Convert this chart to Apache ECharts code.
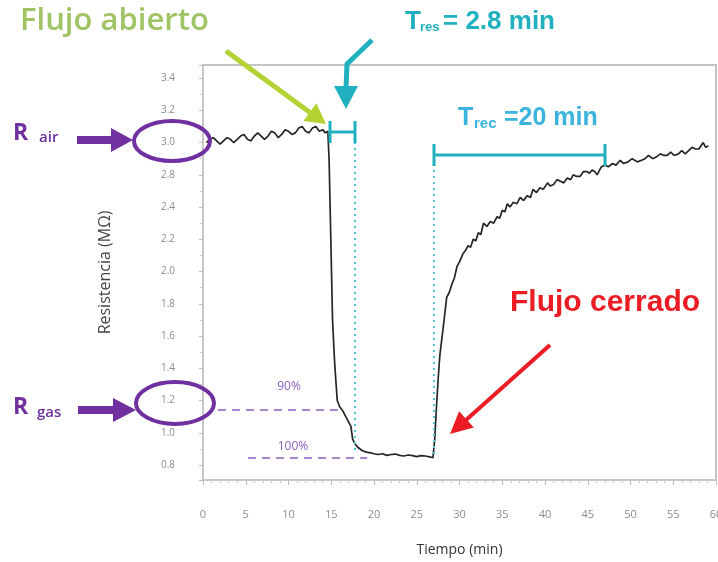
<!DOCTYPE html>
<html>
<head>
<meta charset="utf-8">
<script src="https://cdn.jsdelivr.net/npm/echarts@6/dist/echarts.min.js"></script>
<style>html,body{margin:0;padding:0;background:#fff}#c{width:718px;height:562px}</style>
</head>
<body>
<div id="c"></div>
<script>
// time (min)
const timeMin = [0.4,0.8,1.2,1.6,2.0,2.4,2.8,3.2,3.6,4.0,4.4,4.8,5.2,5.6,6.0,6.4,6.8,7.2,7.6,8.0,8.4,8.8,9.2,9.6,10.0,10.4,10.8,11.2,11.6,12.0,12.4,12.8,13.2,13.6,14.0,14.3,14.6,
14.75,14.85,14.95,15.05,15.15,15.4,15.7,16.0,16.3,16.9,17.3,17.5,17.8,18.1,18.6,19.1,19.6,20.0,20.5,21.0,21.5,22.0,22.5,23.0,23.5,24.0,24.5,25.0,25.5,26.0,26.5,26.9,
27.1,27.35,27.5,27.7,27.95,28.2,28.5,28.8,29.1,29.4,29.7,30.0,30.4,30.7,31.0,31.3,31.6,31.9,32.2,32.5,32.8,33.2,33.6,34.0,34.4,34.7,35.0,35.3,35.6,35.9,36.3,36.7,37.1,37.5,37.9,38.3,38.6,39.0,39.4,39.8,40.3,40.6,41.0,41.4,41.8,42.2,42.6,43.0,43.3,43.7,44.1,44.5,44.9,45.2,45.5,45.8,46.1,46.4,46.6,47.0,47.4,47.9,48.3,48.8,49.2,49.7,50.2,50.8,51.3,51.7,52.1,52.6,53.0,53.5,53.9,54.3,54.7,55.1,55.6,56.0,56.4,56.8,57.2,57.6,58.0,58.5,58.8,59.1];
// resistance, in the plotted axis units
const resistance = [2.80,2.82,2.83,2.81,2.79,2.81,2.83,2.82,2.80,2.82,2.84,2.85,2.82,2.81,2.84,2.86,2.84,2.82,2.84,2.87,2.86,2.83,2.85,2.88,2.87,2.85,2.86,2.89,2.90,2.87,2.86,2.89,2.90,2.87,2.88,2.86,2.87,
2.69,2.44,2.20,1.95,1.70,1.43,1.20,1.16,1.14,1.08,1.04,0.96,0.93,0.91,0.89,0.88,0.875,0.87,0.865,0.87,0.86,0.865,0.868,0.86,0.856,0.862,0.858,0.852,0.858,0.856,0.850,0.845,
0.96,1.20,1.33,1.48,1.59,1.70,1.84,1.87,1.92,1.96,2.03,2.06,2.11,2.13,2.16,2.15,2.20,2.19,2.24,2.23,2.30,2.28,2.31,2.30,2.34,2.33,2.38,2.37,2.42,2.40,2.43,2.42,2.46,2.44,2.47,2.46,2.51,2.49,2.52,2.51,2.55,2.53,2.54,2.57,2.56,2.55,2.58,2.57,2.60,2.59,2.59,2.62,2.62,2.61,2.63,2.62,2.60,2.63,2.65,2.66,2.65,2.67,2.66,2.69,2.67,2.68,2.70,2.68,2.69,2.70,2.72,2.70,2.71,2.73,2.72,2.72,2.74,2.72,2.73,2.75,2.73,2.75,2.77,2.76,2.76,2.80,2.77,2.78];
// y tick positions and the labels printed at them in the reference
const yTickValues = [0.8,1.0,1.2,1.4,1.6,1.8,2.0,2.2,2.4,2.6,2.8,3.0,3.2];
const yTickLabels = ['0.8','1.0','1.2','1.4','1.6','1.8','2.0','2.2','2.4','2.8','3.0','3.2','3.4'];
const xTickLabels = [0,5,10,15,20,25,30,35,40,45,50,55,60];

const PURPLE = '#7030a0';
const TEAL = '#20b0bf';

function arrowHead(x1,y1,x2,y2,len,half,color){
  const dx=x2-x1, dy=y2-y1, L=Math.hypot(dx,dy), ux=dx/L, uy=dy/L;
  const bx=x2-ux*len, by=y2-uy*len, nx=-uy, ny=ux;
  return {type:'polygon', z:100, shape:{points:[[x2,y2],[bx+nx*half,by+ny*half],[bx-nx*half,by-ny*half]]}, style:{fill:color}};
}
function shaft(x1,y1,x2,y2,w,color){
  return {type:'line', z:100, shape:{x1,y1,x2,y2}, style:{stroke:color, lineWidth:w}};
}
function txt(x,y,text,font,fill,align){
  return {type:'text', z:100, style:{x,y,text,font,fill,textAlign:align||'left',textVerticalAlign:'middle'}};
}

const chart = echarts.init(document.getElementById('c'), null, {renderer:'canvas'});
const option = {
  animation:false,
  backgroundColor:'#fff',
  grid:{left:203,right:2,top:65,bottom:82,outerBoundsMode:'none',containLabel:false,show:true,borderColor:'#c4c4c4',borderWidth:2,backgroundColor:'transparent'},
  xAxis:{
    type:'value', min:0, max:60, interval:5,
    axisLine:{show:true,lineStyle:{color:'#c8c8c8',width:1.5}},
    axisTick:{show:true,length:5,lineStyle:{color:'#bdbdbd'}},
    minorTick:{show:true,splitNumber:5,length:3,lineStyle:{color:'#c8c8c8'}},
    splitLine:{show:false},
    axisLabel:{margin:29,color:'#8c8c8c',fontSize:11,fontFamily:'Open Sans',hideOverlap:false,
      formatter:v=>{const i=xTickLabels.indexOf(Math.round(v)); return i>=0?String(xTickLabels[i]):'';}},
    name:'Tiempo (min)', nameLocation:'middle', nameGap:63,
    nameTextStyle:{color:'#333',fontSize:14,fontFamily:'Open Sans'}
  },
  yAxis:{
    type:'value', min:0.707, max:3.281, splitNumber:13,
    axisLine:{show:true,lineStyle:{color:'#c8c8c8',width:1.5}},
    axisTick:{show:true,length:4,lineStyle:{color:'#bdbdbd'}},
    minorTick:{show:true,splitNumber:2,length:3,lineStyle:{color:'#cfcfcf'}},
    splitLine:{show:false},
    axisLabel:{margin:28,color:'#8c8c8c',fontSize:10,fontFamily:'Open Sans',
      formatter:v=>{for(let i=0;i<yTickValues.length;i++){if(Math.abs(v-yTickValues[i])<0.005)return yTickLabels[i];}return '';}},
    name:'Resistencia (MΩ)', nameLocation:'middle', nameGap:90, nameRotate:90,
    nameTextStyle:{color:'#444',fontSize:16,fontFamily:'Open Sans'}
  },
  series:[{
    type:'line', data: timeMin.map((t,i)=>[t,resistance[i]]),
    showSymbol:false, symbol:'none', smooth:false,
    lineStyle:{color:'#262626',width:1.7},
    markLine:{
      silent:true, symbol:'none', label:{show:false},
      data:[
        [{coord:[1.75,1.141],lineStyle:{color:'#8a5fc0',type:[8,6],width:1.6}},{coord:[15.8,1.141]}],
        [{coord:[5.26,0.843],lineStyle:{color:'#8a5fc0',type:[8,6],width:1.6}},{coord:[19.2,0.843]}],
        [{coord:[17.8,2.878],lineStyle:{color:'#55c6cf',type:[2,4],width:2}},{coord:[17.8,0.893]}],
        [{coord:[27.0,2.741],lineStyle:{color:'#55c6cf',type:[2,4],width:2}},{coord:[27.0,0.85]}]
      ]
    }
  }],
  graphic:[
    // Flujo abierto
    txt(20,21,'Flujo abierto','600 31px "Open Sans"','#a0c365'),
    shaft(226,51,312,114,5,'#b3d233'),
    arrowHead(226,51,326,124,20,11,'#b3d233'),
    // T_res
    txt(405,22,'T','bold 26px "Liberation Sans Narrow", "Liberation Sans"',TEAL),
    txt(420,27,'res','bold 13px "Liberation Sans Narrow", "Liberation Sans"',TEAL),
    txt(443,22,'= 2.8 min','bold 26px "Liberation Sans Narrow", "Liberation Sans"',TEAL),
    {type:'polyline', z:100, shape:{points:[[372,40],[347,64],[346,88]]}, style:{stroke:TEAL,lineWidth:5,fill:null}},
    {type:'polygon', z:100, shape:{points:[[334,86],[358,86],[346,109]]}, style:{fill:TEAL}},
    // response bracket
    shaft(330,132,355,132,3,TEAL), shaft(330,121,330,143,3,TEAL), shaft(355,121,355,143,3,TEAL),
    // T_rec
    txt(458,118,'T','bold 25px "Liberation Sans"','#3ab3dd'),
    txt(474,124,'rec','bold 15px "Liberation Sans"','#3ab3dd'),
    txt(504,118,'=20 min','bold 25px "Liberation Sans"','#3ab3dd'),
    shaft(434,155,605,155,3,TEAL), shaft(434,144,434,166,3,TEAL), shaft(605,144,605,166,3,TEAL),
    // Flujo cerrado
    txt(510,303,'Flujo cerrado','bold 30px "Liberation Sans"','#ec1c24'),
    shaft(550,345,466,420,4,'#ec1c24'),
    arrowHead(550,345,450,434,22,11,'#ec1c24'),
    // R air
    txt(13,133,'R','bold 23px "Open Sans"',PURPLE),
    txt(39,138,'air','600 15px "Open Sans"',PURPLE),
    {type:'rect', z:100, shape:{x:77,y:136,width:36,height:8}, style:{fill:PURPLE}},
    {type:'polygon', z:100, shape:{points:[[111,128],[111,152],[133,140]]}, style:{fill:PURPLE}},
    {type:'ellipse', z:100, shape:{cx:172,cy:141,rx:38,ry:20}, style:{fill:null,stroke:PURPLE,lineWidth:4}},
    // R gas
    txt(13,407,'R','bold 23px "Open Sans"',PURPLE),
    txt(37,413,'gas','600 15px "Open Sans"',PURPLE),
    {type:'rect', z:100, shape:{x:78,y:406,width:37,height:8}, style:{fill:PURPLE}},
    {type:'polygon', z:100, shape:{points:[[113,398],[113,422],[136,410]]}, style:{fill:PURPLE}},
    {type:'ellipse', z:100, shape:{cx:175,cy:403,rx:39,ry:21}, style:{fill:null,stroke:PURPLE,lineWidth:4}},
    // percentages
    txt(289,387,'90%','12px "Open Sans"','#8a5fc0','center'),
    txt(293,447,'100%','12px "Open Sans"','#8a5fc0','center')
  ]
};
chart.setOption(option);
</script>
</body>
</html>
